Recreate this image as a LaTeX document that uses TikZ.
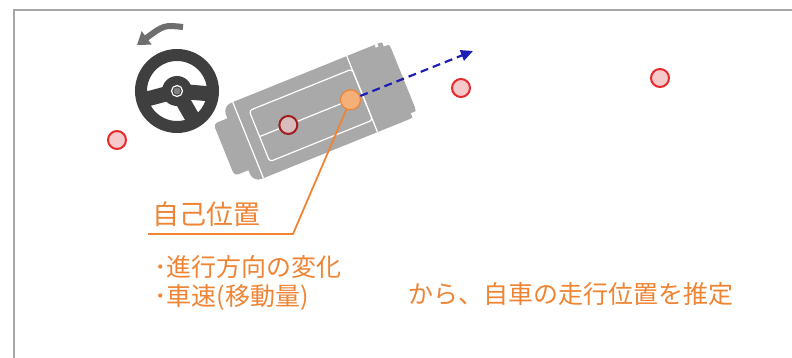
\documentclass[tikz,border=0pt]{standalone}
\usepackage{fontspec}
\setmainfont{Noto Sans CJK JP}
\usepackage{tikz}
\usetikzlibrary{arrows.meta,positioning}

\definecolor{noteorange}{HTML}{EE8434}
\definecolor{dotorange}{HTML}{F5B07A}
\definecolor{markred}{HTML}{E8292B}
\definecolor{markpink}{HTML}{F6CACA}
\definecolor{cargray}{HTML}{A9A9A9}
\definecolor{wheelgray}{HTML}{3F3F3F}
\definecolor{turngray}{HTML}{6E6E6E}
\definecolor{headblue}{HTML}{1E1EB4}
\definecolor{framegray}{HTML}{A6A6A6}

\begin{document}
\begin{tikzpicture}[x=1pt,y=-1pt]
  \tikzset{landmark/.style = {circle, minimum size = 18pt, inner sep = 0, fill = markpink, draw = markred, line width = 2pt}}
  \tikzset{carmark/.style = {landmark, fill = markpink!60!cargray, draw = markred!70!black}}
  \tikzset{poscar/.style = {circle, minimum size = 20pt, inner sep = 0, fill = dotorange, draw = noteorange, line width = 1.2pt}}
  \tikzset{note/.style = {text = noteorange, font = \fontsize{25}{30}\selectfont, inner sep = 0, anchor = base west}}
  \tikzset{carline/.style = {white, line width = 1.2pt}}

  \useasboundingbox (0,0) rectangle (792,358);
  \draw[framegray, line width = 2.5pt] (14,358) -- (14,10) -- (792,10);

  % landmarks on the road
  \node[landmark] (LM1) at (117,140) {};
  \node[landmark] (LM2) at (461,88) {};
  \node[landmark] (LM3) at (660,78) {};

  % steering wheel and its turn arrow
  \begin{scope}[shift = {(177,91)}]
    \draw[wheelgray, line width = 12pt] (0,0) circle (36);
    \foreach \a in {5,60,165}
      \draw[wheelgray, line width = 15pt] (0,0) -- (\a:36);
    \fill[wheelgray] (0,0) circle (15);
    \draw[white, line width = 1.2pt] (0,0) circle (5.5);
    \fill[gray] (0,0) circle (3.5);
  \end{scope}
  \coordinate (turnstart) at (183,27);
  \coordinate (turnend) at (137,45);
  \draw[turngray, line width = 6pt, -{Triangle[length = 12pt, width = 16pt]}]
    (turnstart) .. controls (164,25) .. (turnend);

  % own car
  \begin{scope}[shift = {(318,113)}, rotate = 22]
    \fill[cargray, rounded corners = 4pt] (-101,-29) rectangle (-80,27);
    \fill[cargray, rounded corners = 9pt] (-86,-42) rectangle (92,40);
    \fill[white] (86,-42) rectangle (92,-37);
    \fill[white] (86,35) rectangle (92,40);
    \fill[white] (78,-42) rectangle (81,-39);
    \draw[carline] (-75,-42) -- (-75,40);
    \draw[carline] (48,-42) -- (48,40);
    \draw[carline, rounded corners = 3pt] (-63,-28) rectangle (48,27);
    \draw[carline] (-63,0) -- (35,0);
    \node[carmark] (rear) at (-32,0) {};
    \node[poscar] (cur) at (35,0) {};
  \end{scope}

  % heading
  \coordinate (heading) at (473,51);
  \draw[headblue, line width = 2.2pt, dashed, dash pattern = on 8pt off 5pt,
        -{Triangle[length = 12pt, width = 11pt]}] (cur) -- (heading);

  % callout
  \coordinate (bend) at (293,234);
  \coordinate (lineend) at (148,234);
  \draw[noteorange, line width = 1.8pt] (cur) -- (bend) -- (lineend);
  \node[note, font = \fontsize{27}{32}\selectfont] (pos) at (152,225) {自己位置};
  \node[note] (dir) at (154,276) {･進行方向の変化};
  \node[note] (speed) at ([yshift = -29pt]dir.base west) {･車速(移動量)};
  \node[note] (est) at ([xshift = 254pt, yshift = 2pt]speed.base west) {から、自車の走行位置を推定};
\end{tikzpicture}
\end{document}
